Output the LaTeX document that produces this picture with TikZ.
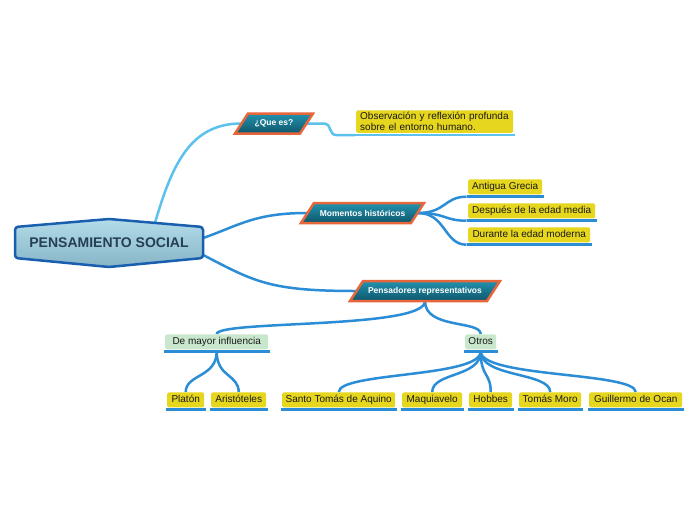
\documentclass[tikz,border=0pt]{standalone}
\usepackage{fontspec}
\setmainfont{Liberation Sans}
\usetikzlibrary{calc}
\definecolor{yel}{HTML}{E6D61E}
\definecolor{grn}{HTML}{C9E7CC}
\definecolor{blu}{HTML}{2B8DD6}
\definecolor{lblu}{HTML}{5CC1EC}
\definecolor{org}{HTML}{E8663C}
\definecolor{tealt}{HTML}{2392AE}
\definecolor{tealb}{HTML}{0E566B}
\definecolor{hexb}{HTML}{1A5EB0}
\definecolor{hext}{HTML}{B3DCE8}
\definecolor{hexbot}{HTML}{86B5C7}
\definecolor{ctext}{HTML}{263F55}
\pgfdeclarelayer{bg}
\pgfsetlayers{bg,main}
\tikzset{
 ybox/.style={fill=yel, rounded corners=1.5pt, inner xsep=3pt, inner ysep=0pt, minimum height=15pt, text height=7.3pt, text depth=2pt, font=\fontsize{10}{11}\selectfont, text=black!90},
 gbox/.style={ybox, fill=grn},
 obox/.style={fill=yel, rounded corners=1.5pt, inner xsep=4pt, inner ysep=2pt, font=\fontsize{10}{11}\selectfont, text=black!90, align=left, text width=149pt},
 uline/.style={draw=blu, line width=2.5pt},
 conn/.style={draw=blu, line width=2.5pt},
 lconn/.style={draw=lblu, line width=2.5pt},
 ptext/.style={text=white, font=\bfseries\fontsize{8.5}{10}\selectfont, minimum height=20pt, inner sep=0pt},
 pshape/.style={draw=org, line width=2.5pt, top color=tealt, bottom color=tealb, line join=miter},
 ctextstyle/.style={font=\bfseries\fontsize{14}{16}\selectfont, text=ctext, minimum width=188pt, minimum height=48pt, inner sep=0pt},
}
\newcommand\ynode[6]{%
 \node[#1, minimum width=#5pt, anchor=south west] (#2) at (#3,#4) {#6};
 \draw[uline] ([xshift=-1.5pt,yshift=-2.2pt]#2.south west) coordinate (#2-l) -- ([xshift=2pt,yshift=-2.2pt]#2.south east) coordinate (#2-r);
}
\newcommand\pnode[5]{%
 \path[pshape] (#2-#4-6.5,#3+10) -- (#2-#4+6.5,#3-10) -- (#2+#4+6.5,#3-10) -- (#2+#4-6.5,#3+10) -- cycle;
 \node[ptext, minimum width={2*#4pt}] (#1) at (#2,#3) {#5};
}
\begin{document}
\begin{tikzpicture}[x=1pt,y=-1pt]
\useasboundingbox (0,0) rectangle (696,520);

% central node
\path[draw=hexb, line width=2.5pt, top color=hext, bottom color=hexbot, rounded corners=3pt]
  (15,227) -- (109,219) -- (203,227) -- (203,258) -- (109,267) -- (15,258) -- cycle;
\node[ctextstyle] (c) at (109,243) {PENSAMIENTO SOCIAL};

% main topics
\pnode{q}{274}{123.5}{32.5}{¿Que es?}
\pnode{m}{362.5}{213}{55}{Momentos históricos}
\pnode{p}{425}{291}{68.5}{Pensadores representativos}

% que es child
\node[obox, anchor=south west, minimum width=157pt] (obs) at (356,133) {Observación y reflexión profunda\\sobre el entorno humano.};
\draw[draw=lblu, line width=2.5pt] ([xshift=-1pt,yshift=-2pt]obs.south west) coordinate (obs-l) -- ([xshift=2pt,yshift=-2pt]obs.south east);

% momentos children
\ynode{ybox}{ant}{468}{194.5}{74}{Antigua Grecia}
\ynode{ybox}{des}{468}{218.5}{127}{Después de la edad media}
\ynode{ybox}{dur}{468}{242.5}{122}{Durante la edad moderna}

% pensadores children
\ynode{gbox}{dm}{165}{349.5}{103}{De mayor influencia}
\ynode{gbox}{ot}{465}{349.5}{31}{Otros}

\ynode{ybox}{pla}{167}{407.5}{37}{Platón}
\ynode{ybox}{ari}{211}{407.5}{55}{Aristóteles}
\ynode{ybox}{sta}{282}{407.5}{113}{Santo Tomás de Aquino}
\ynode{ybox}{maq}{402}{407.5}{60}{Maquiavelo}
\ynode{ybox}{hob}{469}{407.5}{43}{Hobbes}
\ynode{ybox}{tmo}{519}{407.5}{62}{Tomás Moro}
\ynode{ybox}{gui}{589}{407.5}{93}{Guillermo de Ocan}

\begin{pgfonlayer}{bg}
\fill[white] (0,0) rectangle (696,520);
\draw[lconn] ([xshift=46pt,yshift=-4pt]c.north) .. controls (172,165) and (190,123.5) .. (q.west);
\draw[conn] ([yshift=5pt]c.east) .. controls (240,225) and (255,213) .. (m.west);
\draw[conn] ([yshift=-12pt]c.east) .. controls (255,282) and (270,291) .. (p.west);

\draw[lconn] (q.east) -- (325,123.5) .. controls (331,123.5) and (329,135) .. (336,135) -- (obs-l);

\draw[conn] (m.east) .. controls (446,213) and (444,196.7) .. (ant-l);
\draw[conn] (m.east) .. controls (446,213) and (444,220.7) .. (des-l);
\draw[conn] (m.east) .. controls (446,213) and (444,244.7) .. (dur-l);

\draw[conn] (p.south) .. controls +(0,28) and +(0,-14) .. (dm.north);
\draw[conn] (p.south) .. controls +(0,28) and +(0,-14) .. (ot.north);

\draw[conn] ([yshift=-2pt]dm.south) .. controls +(0,26) and +(0,-18) .. (pla.north);
\draw[conn] ([yshift=-2pt]dm.south) .. controls +(0,26) and +(0,-18) .. (ari.north);

\draw[conn] ([yshift=-2pt]ot.south) .. controls +(0,26) and +(0,-20) .. (sta.north);
\draw[conn] ([yshift=-2pt]ot.south) .. controls +(0,26) and +(0,-20) .. (maq.north);
\draw[conn] ([yshift=-2pt]ot.south) .. controls +(0,26) and +(0,-20) .. (hob.north);
\draw[conn] ([yshift=-2pt]ot.south) .. controls +(0,26) and +(0,-20) .. (tmo.north);
\draw[conn] ([yshift=-2pt]ot.south) .. controls +(0,26) and +(0,-20) .. (gui.north);
\end{pgfonlayer}
\end{tikzpicture}
\end{document}
